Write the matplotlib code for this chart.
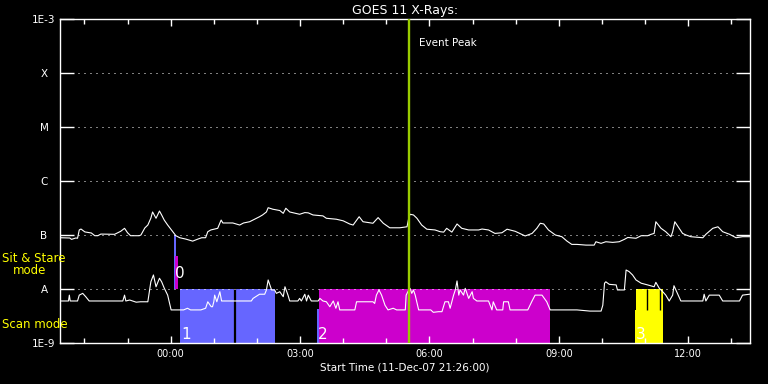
import numpy as np
import matplotlib
matplotlib.use("Agg")
import matplotlib.pyplot as plt
from matplotlib.ticker import FixedLocator, NullLocator

# time axis: hours relative to 00:00 on 12-Dec-07 (start 21:26 on 11-Dec)
t_start = -2.5667
t_end = 13.4333
event_t = 5.525

# GOES 11 long channel (1-8 A), W/m^2
upper_t = [-2.56, -2.34, -2.30, -2.20, -2.16, -2.12, -2.08, -1.99, -1.84, -1.76,
           -1.69, -1.62, -1.30, -1.16, -1.07, -1.00, -0.93, -0.73, -0.69, -0.60,
           -0.53, -0.46, -0.42, -0.34, -0.26, -0.21, -0.15, -0.07, 0.05, 0.12,
           0.21, 0.35, 0.51, 0.63, 0.72, 0.81, 0.86, 0.93, 1.09, 1.17,
           1.21, 1.44, 1.60, 1.69, 1.83, 1.97, 2.06, 2.13, 2.22, 2.26,
           2.37, 2.53, 2.61, 2.67, 2.76, 2.99, 3.11, 3.19, 3.30, 3.53,
           3.61, 3.84, 4.00, 4.15, 4.23, 4.37, 4.46, 4.69, 4.81, 4.93,
           5.08, 5.31, 5.48, 5.52, 5.55, 5.63, 5.71, 5.82, 5.94, 6.13,
           6.25, 6.33, 6.40, 6.52, 6.64, 6.75, 6.91, 7.14, 7.22, 7.37,
           7.52, 7.68, 7.80, 7.99, 8.14, 8.22, 8.38, 8.49, 8.57, 8.65,
           8.76, 8.92, 9.07, 9.19, 9.30, 9.42, 9.63, 9.82, 9.86, 9.98,
           10.09, 10.25, 10.40, 10.52, 10.60, 10.79, 10.91, 11.06, 11.14, 11.21,
           11.25, 11.37, 11.48, 11.60, 11.64, 11.69, 11.79, 11.87, 11.95, 12.06,
           12.34, 12.41, 12.57, 12.69, 12.80, 12.96, 13.11, 13.26, 13.42]
upper_f = [8.9e-8, 8.8e-8, 8.3e-8, 8.8e-8, 8.7e-8, 1.24e-7, 1.29e-7, 1.14e-7, 1.09e-7, 9.7e-8,
           9.7e-8, 1.04e-7, 1.03e-7, 1.17e-7, 1.33e-7, 1.10e-7, 9.7e-8, 9.7e-8, 1.0e-7, 1.35e-7,
           1.53e-7, 2.05e-7, 2.67e-7, 2.04e-7, 2.78e-7, 2.35e-7, 1.89e-7, 1.53e-7, 1.15e-7, 9.7e-8,
           8.9e-8, 8.4e-8, 7.7e-8, 8.4e-8, 8.9e-8, 8.9e-8, 1.15e-7, 1.24e-7, 1.33e-7, 1.89e-7,
           1.67e-7, 1.67e-7, 1.53e-7, 1.67e-7, 1.76e-7, 2.0e-7, 2.18e-7, 2.35e-7, 2.67e-7, 3.2e-7,
           3.0e-7, 2.84e-7, 2.52e-7, 3.13e-7, 2.67e-7, 2.42e-7, 2.6e-7, 2.57e-7, 2.35e-7, 2.26e-7,
           2.04e-7, 1.96e-7, 1.83e-7, 1.6e-7, 1.53e-7, 2.18e-7, 1.76e-7, 1.65e-7, 2.1e-7, 1.65e-7,
           1.36e-7, 1.36e-7, 1.42e-7, 2.04e-7, 2.42e-7, 2.35e-7, 2.04e-7, 1.53e-7, 1.28e-7, 1.24e-7,
           1.15e-7, 1.13e-7, 1.33e-7, 1.13e-7, 1.6e-7, 1.33e-7, 1.24e-7, 1.24e-7, 1.29e-7, 1.24e-7,
           1.07e-7, 1.10e-7, 1.28e-7, 1.17e-7, 1.03e-7, 9.6e-8, 1.07e-7, 1.33e-7, 1.65e-7, 1.6e-7,
           1.24e-7, 1.0e-7, 9.3e-8, 7.7e-8, 6.7e-8, 6.7e-8, 6.5e-8, 6.5e-8, 7.5e-8, 7.0e-8,
           7.5e-8, 7.3e-8, 7.5e-8, 8.3e-8, 9.0e-8, 8.7e-8, 9.7e-8, 9.7e-8, 1.03e-7, 1.07e-7,
           1.76e-7, 1.33e-7, 1.15e-7, 9.3e-8, 1.15e-7, 1.76e-7, 1.33e-7, 1.07e-7, 1.0e-7, 9.3e-8,
           8.9e-8, 1.03e-7, 1.33e-7, 1.42e-7, 1.15e-7, 1.03e-7, 8.9e-8, 9.3e-8, 9.3e-8]

# GOES 11 short channel (0.5-4 A), W/m^2
lower_t = [-2.56, -2.37, -2.35, -2.33, -2.16, -2.12, -2.04, -1.97, -1.89, -1.11,
           -1.07, -1.04, -0.95, -0.80, -0.70, -0.53, -0.46, -0.40, -0.34, -0.26,
           -0.21, -0.15, -0.07, 0.01, 0.30, 0.39, 0.46, 0.70, 0.81, 0.86,
           0.94, 0.97, 1.00, 1.02, 1.07, 1.14, 1.18, 1.87, 1.91, 2.03,
           2.06, 2.18, 2.22, 2.26, 2.30, 2.34, 2.41, 2.45, 2.53, 2.61,
           2.65, 2.72, 2.76, 2.95, 2.99, 3.03, 3.11, 3.15, 3.19, 3.26,
           3.42, 3.46, 3.53, 3.61, 3.69, 3.77, 3.83, 3.88, 3.92, 4.27,
           4.31, 4.69, 4.73, 4.77, 4.83, 4.89, 4.97, 5.04, 5.16, 5.24,
           5.44, 5.46, 5.50, 5.55, 5.59, 5.63, 5.67, 5.75, 6.03, 6.09,
           6.21, 6.29, 6.36, 6.44, 6.48, 6.56, 6.60, 6.64, 6.68, 6.71,
           6.79, 6.83, 6.91, 6.99, 7.02, 7.10, 7.37, 7.45, 7.48, 7.56,
           7.70, 7.72, 7.83, 7.87, 8.28, 8.38, 8.45, 8.61, 8.72, 8.80,
           9.42, 9.72, 9.98, 10.02, 10.06, 10.09, 10.17, 10.33, 10.36, 10.52,
           10.56, 10.63, 10.71, 10.79, 10.91, 11.06, 11.21, 11.25, 11.33, 11.41,
           11.48, 11.56, 11.64, 11.67, 11.75, 11.83, 12.34, 12.37, 12.41, 12.49,
           12.72, 12.80, 13.19, 13.26, 13.42]
lower_f = [6.0e-9, 6.0e-9, 7.7e-9, 6.0e-9, 6.0e-9, 7.7e-9, 8.3e-9, 7.2e-9, 6.0e-9, 6.0e-9,
           7.7e-9, 6.0e-9, 6.25e-9, 5.7e-9, 5.8e-9, 5.8e-9, 1.36e-8, 1.82e-8, 1.1e-8, 1.58e-8,
           1.36e-8, 1.04e-8, 7.7e-9, 4.1e-9, 4.1e-9, 4.4e-9, 4.1e-9, 4.1e-9, 4.4e-9, 5.8e-9,
           4.7e-9, 4.7e-9, 5.8e-9, 7.7e-9, 5.8e-9, 8.9e-9, 6.0e-9, 6.0e-9, 6.7e-9, 7.7e-9,
           8.0e-9, 8.0e-9, 9.6e-9, 1.47e-8, 1.19e-8, 9.6e-9, 9.6e-9, 8.3e-9, 8.9e-9, 7.2e-9,
           1.1e-8, 7.7e-9, 6.0e-9, 6.0e-9, 6.7e-9, 6.0e-9, 8.0e-9, 6.0e-9, 7.7e-9, 6.0e-9,
           6.0e-9, 6.7e-9, 6.0e-9, 5.8e-9, 4.7e-9, 6.0e-9, 4.4e-9, 5.8e-9, 4.1e-9, 4.1e-9,
           5.8e-9, 5.8e-9, 5.4e-9, 7.7e-9, 9.6e-9, 7.7e-9, 5.0e-9, 4.1e-9, 4.4e-9, 4.1e-9,
           4.1e-9, 7.7e-9, 8.9e-9, 1.03e-8, 8.3e-9, 9.6e-9, 7.7e-9, 4.1e-9, 4.1e-9, 3.7e-9,
           3.8e-9, 3.8e-9, 5.8e-9, 5.8e-9, 4.4e-9, 7.7e-9, 9.6e-9, 1.41e-8, 7.7e-9, 9.6e-9,
           7.7e-9, 1.03e-8, 6.7e-9, 8.9e-9, 6.7e-9, 6.0e-9, 6.0e-9, 4.1e-9, 5.8e-9, 4.1e-9,
           4.1e-9, 5.8e-9, 5.8e-9, 4.1e-9, 4.1e-9, 6.0e-9, 7.7e-9, 7.7e-9, 5.8e-9, 4.1e-9,
           4.1e-9, 3.9e-9, 3.9e-9, 5.0e-9, 1.28e-8, 1.36e-8, 1.22e-8, 1.19e-8, 9.6e-9, 9.6e-9,
           2.25e-8, 2.1e-8, 1.82e-8, 1.47e-8, 1.28e-8, 1.19e-8, 1.1e-8, 1.33e-8, 1.03e-8, 8.9e-9,
           7.7e-9, 6.0e-9, 7.7e-9, 1.15e-8, 8.3e-9, 6.0e-9, 6.0e-9, 8.0e-9, 6.0e-9, 7.7e-9,
           7.7e-9, 6.0e-9, 6.0e-9, 7.7e-9, 8.0e-9]

# observing mode blocks (sit & stare / scan)
mode_start = [0.077, 0.100, 0.216, 3.393, 3.439, 10.77, 10.79]
mode_end = [0.123, 0.163, 2.412, 3.439, 8.79, 11.41, 11.41]
mode_low = [1e-8, 1e-8, 1e-9, 1e-9, 1e-9, 1e-9, 1e-9]
mode_high = [1e-7, 4.1e-8, 1e-8, 4.3e-9, 1e-8, 4.1e-9, 1e-8]
mode_color = ["#6666ff", "#cc00cc", "#6666ff", "#6666ff", "#cc00cc", "#ffff00", "#ffff00"]

# gaps inside blocks
gap_t = [1.491, 11.037, 11.34]
gap_low = [1e-9, 4.1e-9, 4.1e-9]
gap_high = [1e-8, 1e-8, 1e-8]
gap_width = [1.6, 1.0, 1.0]

block_labels = ["0", "1", "2", "3"]
block_label_t = [0.10, 0.25, 3.42, 10.79]
block_label_f = [1.62e-8, 1.17e-9, 1.17e-9, 1.17e-9]

level_values = [1e-9, 1e-8, 1e-7, 1e-6, 1e-5, 1e-4, 1e-3]
level_labels = ["1E-9", "A", "B", "C", "M", "X", "1E-3"]
hour_ticks = [0, 3, 6, 9, 12]
hour_labels = ["00:00", "03:00", "06:00", "09:00", "12:00"]
minor_hours = list(range(-2, 14))

fig = plt.figure(figsize=(7.68, 3.84), dpi=100, facecolor="black")
ax = fig.add_axes([60 / 768, 41 / 384, 690 / 768, 324 / 384])
ax.set_facecolor("black")
ax.set_yscale("log")
ax.set_ylim(1e-9, 1e-3)
ax.set_xlim(t_start, t_end)

for s in ax.spines.values():
    s.set_color("white")
    s.set_linewidth(1.0)

# blocks
for s, e, lo, hi, c in zip(mode_start, mode_end, mode_low, mode_high, mode_color):
    ax.bar(s, hi - lo, width=e - s, bottom=lo, align="edge", color=c, lw=0, zorder=1)
ax.vlines(gap_t, gap_low, gap_high, colors="black", linewidths=gap_width, zorder=1.2)

# dotted class levels
for v in level_values[1:-1]:
    ax.axhline(v, color="white", lw=0.72, linestyle=(0, (1, 5)), zorder=1.5)

ax.plot(upper_t, upper_f, color="white", lw=0.8, zorder=3)
ax.plot(lower_t, lower_f, color="white", lw=0.8, zorder=3)

ax.axvline(event_t, color="#99cc00", lw=1.7, zorder=4)
ax.text(event_t + 0.23, 3.6e-4, "Event Peak", color="white", fontsize=7.5,
        va="center", ha="left")

for lbl, t, f in zip(block_labels, block_label_t, block_label_f):
    ax.text(t, f, lbl, color="white", fontsize=11, ha="left", va="baseline", zorder=5)

# ticks
ax.yaxis.set_major_locator(FixedLocator(level_values))
ax.yaxis.set_minor_locator(NullLocator())
ax.set_yticklabels(level_labels)
ax.tick_params(axis="y", which="major", direction="in", length=10, width=1,
               colors="white", left=True, right=True, labelsize=7.5, pad=11.5)
for lbl in ax.get_yticklabels():
    lbl.set_horizontalalignment("center")

ax.xaxis.set_major_locator(FixedLocator(hour_ticks))
ax.xaxis.set_minor_locator(FixedLocator(minor_hours))
ax.set_xticklabels(hour_labels)
ax.tick_params(axis="x", which="major", direction="in", length=5, width=1,
               colors="white", top=True, bottom=True, labelsize=7, pad=4.5)
ax.tick_params(axis="x", which="minor", direction="in", length=3.3, width=1,
               colors="white", top=True, bottom=True)

ax.set_title("GOES 11 X-Rays:", color="white", fontsize=9, pad=3.6)
fig.text(405 / 768, 1 - 368 / 384, "Start Time (11-Dec-07 21:26:00)", color="white",
         fontsize=7.5, ha="center", va="center")

fig.text(2 / 768, 1 - 259 / 384, "Sit & Stare", color="#ffff00", fontsize=8.5,
         ha="left", va="center")
fig.text(13 / 768, 1 - 271 / 384, "mode", color="#ffff00", fontsize=8.5,
         ha="left", va="center")
fig.text(2 / 768, 1 - 324 / 384, "Scan mode", color="#ffff00", fontsize=8.5,
         ha="left", va="center")

fig.savefig("out.png", dpi=100, facecolor="black")
